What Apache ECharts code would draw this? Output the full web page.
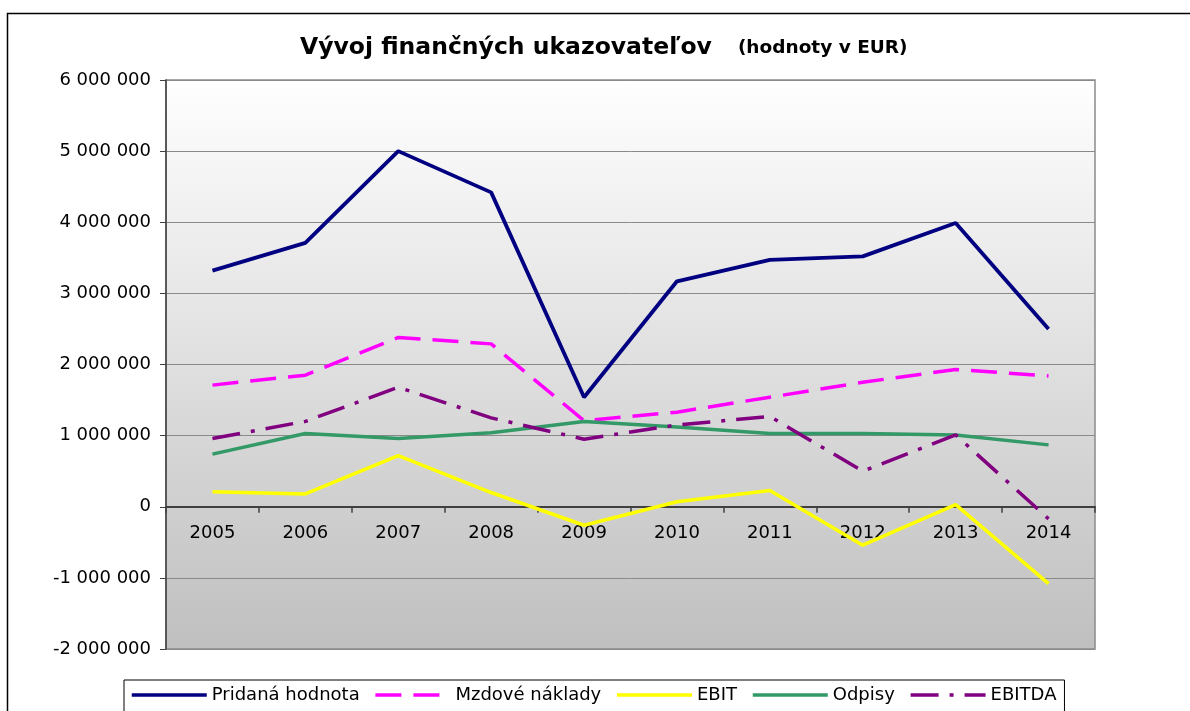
<!DOCTYPE html>
<html>
<head>
<meta charset="utf-8">
<script src="https://cdn.jsdelivr.net/npm/echarts@6/dist/echarts.min.js"></script>
<style>html,body{margin:0;padding:0;background:#fff}#c{width:1190px;height:711px}</style>
</head>
<body>
<div id="c"></div>
<script>
const years = ['2005','2006','2007','2008','2009','2010','2011','2012','2013','2014'];
const pridanaHodnota = [3320000, 3710000, 5000000, 4420000, 1540000, 3170000, 3470000, 3520000, 3990000, 2500000];
const mzdoveNaklady = [1710000, 1850000, 2380000, 2290000, 1210000, 1330000, 1540000, 1750000, 1930000, 1840000];
const ebit = [210000, 180000, 720000, 200000, -260000, 70000, 230000, -540000, 30000, -1080000];
const odpisy = [740000, 1030000, 960000, 1040000, 1200000, 1120000, 1030000, 1030000, 1010000, 870000];
const ebitda = [960000, 1200000, 1680000, 1250000, 950000, 1150000, 1270000, 500000, 1010000, -170000];
const seriesNames = ['Pridaná hodnota', 'Mzdové náklady', 'EBIT', 'Odpisy', 'EBITDA'];

function fmt(v){
  const s = Math.abs(v).toString().replace(/\B(?=(\d{3})+(?!\d))/g, ' ');
  return (v < 0 ? '-' : '') + s;
}

const chart = echarts.init(document.getElementById('c'), null, {renderer:'canvas'});
const font = 'DejaVu Sans';
chart.setOption({
  animation: false,
  backgroundColor: '#ffffff',
  textStyle: {fontFamily: font},
  title: {
    text: '{a|Vývoj finančných ukazovateľov}{b|(hodnoty v EUR)}',
    left: 295, top: 31,
    textStyle: {
      rich: {
        a: {fontFamily: font, fontWeight: 'bold', fontSize: 23.5, color: '#000'},
        b: {fontFamily: font, fontWeight: 'bold', fontSize: 18.5, color: '#000', padding: [0, 0, 0, 26]}
      }
    }
  },
  graphic: [{
    type: 'rect', silent: true, z: -1,
    shape: {x: 7.5, y: 13.5, width: 1300, height: 800},
    style: {fill: null, stroke: '#000', lineWidth: 1.5}
  }],
  legend: {
    left: 124, top: 680,
    data: seriesNames,
    itemWidth: 75, itemHeight: 14, itemGap: 14,
    padding: [6, 8, 20, 6],
    borderColor: '#000', borderWidth: 1,
    backgroundColor: '#fff',
    itemStyle: {opacity: 0},
    lineStyle: {width: 3.5},
    textStyle: {fontFamily: font, fontSize: 18, color: '#000'}
  },
  grid: {
    left: 166, top: 80, right: 95, bottom: 62,
    show: true,
    borderColor: '#8a8a8a', borderWidth: 1.5,
    backgroundColor: {
      type: 'linear', x: 0, y: 0, x2: 0, y2: 1,
      colorStops: [{offset: 0, color: '#ffffff'}, {offset: 1, color: '#bfbfbf'}]
    }
  },
  xAxis: {
    type: 'category',
    data: years,
    boundaryGap: true,
    axisLine: {onZero: true, lineStyle: {color: '#404040', width: 2}},
    axisTick: {show: true, length: 6, lineStyle: {color: '#404040', width: 1.5}},
    axisLabel: {fontFamily: font, fontSize: 18, color: '#000', margin: -125}
  },
  yAxis: {
    type: 'value',
    min: -2000000, max: 6000000, interval: 1000000,
    axisLine: {show: true, lineStyle: {color: '#404040', width: 1.5}},
    axisTick: {show: true, length: 6, lineStyle: {color: '#404040'}},
    splitLine: {lineStyle: {color: '#8a8a8a', width: 1}},
    axisLabel: {fontFamily: font, fontSize: 18, color: '#000', margin: 15, formatter: fmt}
  },
  series: [
    {name: seriesNames[0], type: 'line', data: pridanaHodnota, symbol: 'none',
     lineStyle: {color: '#000080', width: 3.8}, itemStyle: {color: '#000080'}},
    {name: seriesNames[1], type: 'line', data: mzdoveNaklady, symbol: 'none',
     lineStyle: {color: '#ff00ff', width: 3.5, type: [26, 12]}, itemStyle: {color: '#ff00ff'}},
    {name: seriesNames[2], type: 'line', data: ebit, symbol: 'none',
     lineStyle: {color: '#ffff00', width: 3.5}, itemStyle: {color: '#ffff00'}},
    {name: seriesNames[3], type: 'line', data: odpisy, symbol: 'none',
     lineStyle: {color: '#339966', width: 3.5}, itemStyle: {color: '#339966'}},
    {name: seriesNames[4], type: 'line', data: ebitda, symbol: 'none',
     lineStyle: {color: '#800080', width: 3.5, type: [28, 11, 4, 11]}, itemStyle: {color: '#800080'}}
  ]
});
</script>
</body>
</html>
